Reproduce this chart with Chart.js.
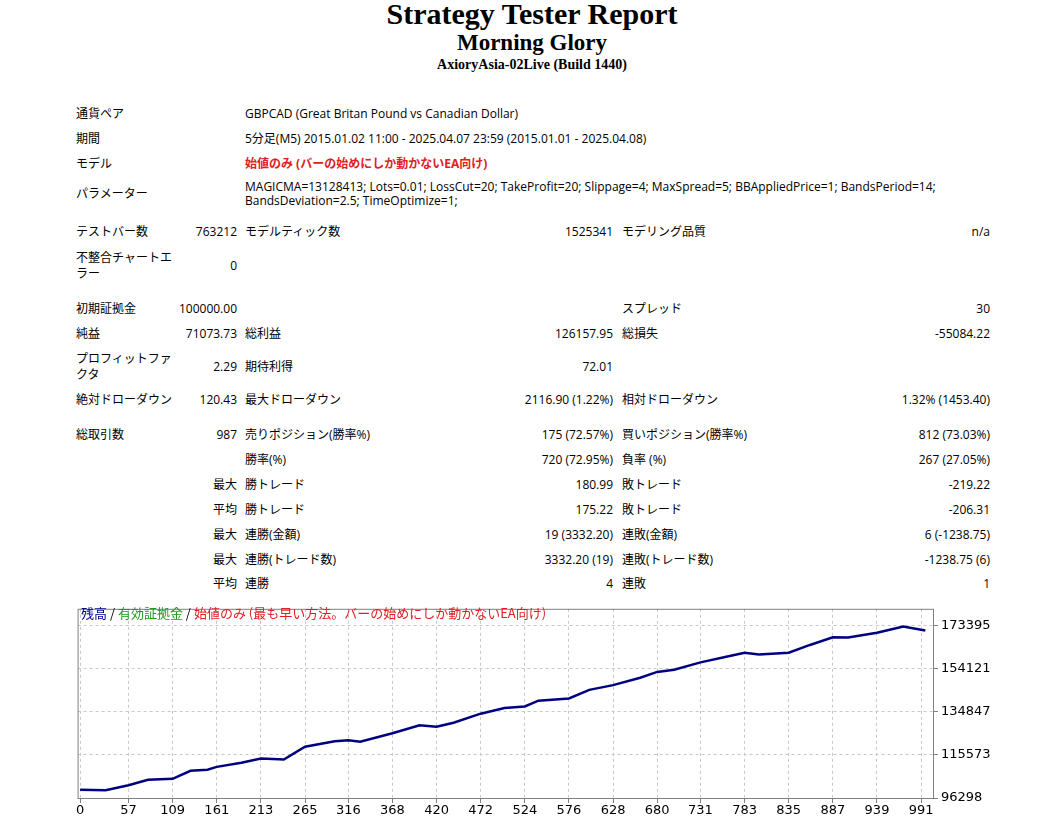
<!DOCTYPE html>
<html>
<head>
<meta charset="utf-8">
<script src="https://cdn.jsdelivr.net/npm/chart.js@4.4.0/dist/chart.umd.min.js"></script>
<style>
body{margin:0;background:#fff;width:1037px;height:818px;position:relative;overflow:hidden;font-family:"Open Sans","Noto Sans CJK JP",sans-serif;font-size:12px;color:#000;}
.t{position:absolute;white-space:nowrap;line-height:15px;}
.r{text-align:right;}
.h{position:absolute;left:0;width:1064px;text-align:center;font-family:"Liberation Serif",serif;font-weight:bold;}
#wrap{position:absolute;left:76px;top:598px;width:930px;height:218px;}
#legend{position:absolute;left:81px;top:603px;font-size:13px;font-family:"Noto Sans CJK JP",sans-serif;}
</style>
</head>
<body>
<div class="h" style="top:-3px;font-size:30px;">Strategy Tester Report</div>
<div class="h" style="top:30px;font-size:23px;">Morning Glory</div>
<div class="h" style="top:57px;font-size:14px;">AxioryAsia-02Live (Build 1440)</div>
<div id="rows"></div>
<div id="wrap"><canvas id="equityChart"></canvas></div>
<div id="legend"><span style="color:#00008b">残高</span> / <span style="color:#1a9a1a">有効証拠金</span> / <span style="color:#e02020">始値のみ (最も早い方法。バーの始めにしか動かないEA向け)</span></div>
<script>
// =====================================
// DATA
// =====================================

const tradeNumbers = [0,30,57,80,109,130,150,161,190,213,240,265,300,316,330,368,400,420,440,472,500,524,540,576,600,628,660,680,700,731,760,783,800,835,860,887,905,939,970,991,996];

const balanceValues = [100000,99800,102050,104500,104900,108500,109000,110250,112100,114000,113550,119300,121750,122200,121500,125350,128900,128200,130000,134100,136600,137300,139900,140900,144760,146900,150200,152800,153800,157100,159500,161400,160600,161400,164900,168300,168200,170350,173200,171700,171400];

const xTicks = [0,57,109,161,213,265,316,368,420,472,524,576,628,680,731,783,835,887,939,991];

const yTicks = [96298,115573,134847,154121,173395];

// =====================================
// REPORT TABLE
// =====================================

const rows = [
    [76,113,"通貨ペア"],[245,113,"GBPCAD (Great Britan Pound vs Canadian Dollar)"],
    [76,138,"期間"],[245,138,"5分足(M5) 2015.01.02 11:00 - 2025.04.07 23:59 (2015.01.01 - 2025.04.08)"],
    [76,163,"モデル"],[245,163,"<b style='color:#e02020'>始値のみ (バーの始めにしか動かないEA向け)</b>"],
    [76,193,"パラメーター"],
    [245,186,"MAGICMA=13128413; Lots=0.01; LossCut=20; TakeProfit=20; Slippage=4; MaxSpread=5; BBAppliedPrice=1; BandsPeriod=14;"],
    [245,200,"BandsDeviation=2.5; TimeOptimize=1;"],
    [76,231,"テストバー数"],[237,231,"763212","r"],[245,231,"モデルティック数"],[613,231,"1525341","r"],[622,231,"モデリング品質"],[990,231,"n/a","r"],
    [76,257,"不整合チャートエ"],[76,273,"ラー"],[237,265,"0","r"],
    [76,308,"初期証拠金"],[237,308,"100000.00","r"],[622,308,"スプレッド"],[990,308,"30","r"],
    [76,333,"純益"],[237,333,"71073.73","r"],[245,333,"総利益"],[613,333,"126157.95","r"],[622,333,"総損失"],[990,333,"-55084.22","r"],
    [76,358,"プロフィットファ"],[76,374,"クタ"],[237,366,"2.29","r"],[245,366,"期待利得"],[613,366,"72.01","r"],
    [76,399,"絶対ドローダウン"],[237,399,"120.43","r"],[245,399,"最大ドローダウン"],[613,399,"2116.90 (1.22%)","r"],[622,399,"相対ドローダウン"],[990,399,"1.32% (1453.40)","r"],
    [76,434,"総取引数"],[237,434,"987","r"],[245,434,"売りポジション(勝率%)"],[613,434,"175 (72.57%)","r"],[622,434,"買いポジション(勝率%)"],[990,434,"812 (73.03%)","r"],
    [245,459,"勝率(%)"],[613,459,"720 (72.95%)","r"],[622,459,"負率 (%)"],[990,459,"267 (27.05%)","r"],
    [237,484,"最大","r"],[245,484,"勝トレード"],[613,484,"180.99","r"],[622,484,"敗トレード"],[990,484,"-219.22","r"],
    [237,509,"平均","r"],[245,509,"勝トレード"],[613,509,"175.22","r"],[622,509,"敗トレード"],[990,509,"-206.31","r"],
    [237,534,"最大","r"],[245,534,"連勝(金額)"],[613,534,"19 (3332.20)","r"],[622,534,"連敗(金額)"],[990,534,"6 (-1238.75)","r"],
    [237,559,"最大","r"],[245,559,"連勝(トレード数)"],[613,559,"3332.20 (19)","r"],[622,559,"連敗(トレード数)"],[990,559,"-1238.75 (6)","r"],
    [237,583,"平均","r"],[245,583,"連勝"],[613,583,"4","r"],[622,583,"連敗"],[990,583,"1","r"]
];

const box = document.getElementById("rows");

rows.forEach(row=>{

    const div = document.createElement("div");

    div.className = "t";

    div.innerHTML = row[2];

    div.style.top = (row[1]-7)+"px";

    if(row[3]==="r"){
        div.classList.add("r");
        div.style.right = (1037-row[0])+"px";
    }else{
        div.style.left = row[0]+"px";
    }

    box.appendChild(div);

});

// =====================================
// BALANCE CHART
// =====================================

const framePlugin = {
    id:"frame",
    afterDraw(chart){
        const a = chart.chartArea;
        const ctx = chart.ctx;
        ctx.save();
        ctx.strokeStyle = "#808080";
        ctx.lineWidth = 1;
        ctx.strokeRect(a.left+0.5,a.top+0.5,a.right-a.left,a.bottom-a.top);
        ctx.restore();
    }
};

const gridStyle = {
    color:"#c8c8c8",
    tickLength:5,
    tickColor:"#808080",
    drawTicks:true
};

new Chart(document.getElementById("equityChart"),{

    type:"line",

    data:{
        datasets:[{
            data:tradeNumbers.map((x,i)=>({x:x,y:balanceValues[i]})),
            borderColor:"#000080",
            borderWidth:2.5,
            pointRadius:0,
            tension:0
        }]
    },

    options:{
        responsive:true,
        maintainAspectRatio:false,
        animation:false,
        layout:{padding:{top:0}},
        plugins:{legend:{display:false},tooltip:{enabled:false}},
        scales:{
            x:{
                type:"linear",
                min:-3,
                max:1005,
                afterBuildTicks(axis){ axis.ticks = xTicks.map(v=>({value:v})); },
                afterFit(axis){ axis.height = 18; },
                grid:Object.assign({},gridStyle),
                border:{dash:[3,3],display:false},
                ticks:{color:"#000",font:{size:13,family:"DejaVu Sans"},padding:0,maxRotation:0,autoSkip:false,callback:v=>String(v)}
            },
            y:{
                position:"right",
                min:96298,
                max:181100,
                afterBuildTicks(axis){ axis.ticks = yTicks.map(v=>({value:v})); },
                afterFit(axis){ axis.width = 73; },
                grid:Object.assign({},gridStyle),
                border:{dash:[3,3],display:false},
                ticks:{color:"#000",font:{size:13,family:"DejaVu Sans"},padding:3,callback:v=>String(v)}
            }
        }
    },

    plugins:[framePlugin]

});
</script>
</body>
</html>
